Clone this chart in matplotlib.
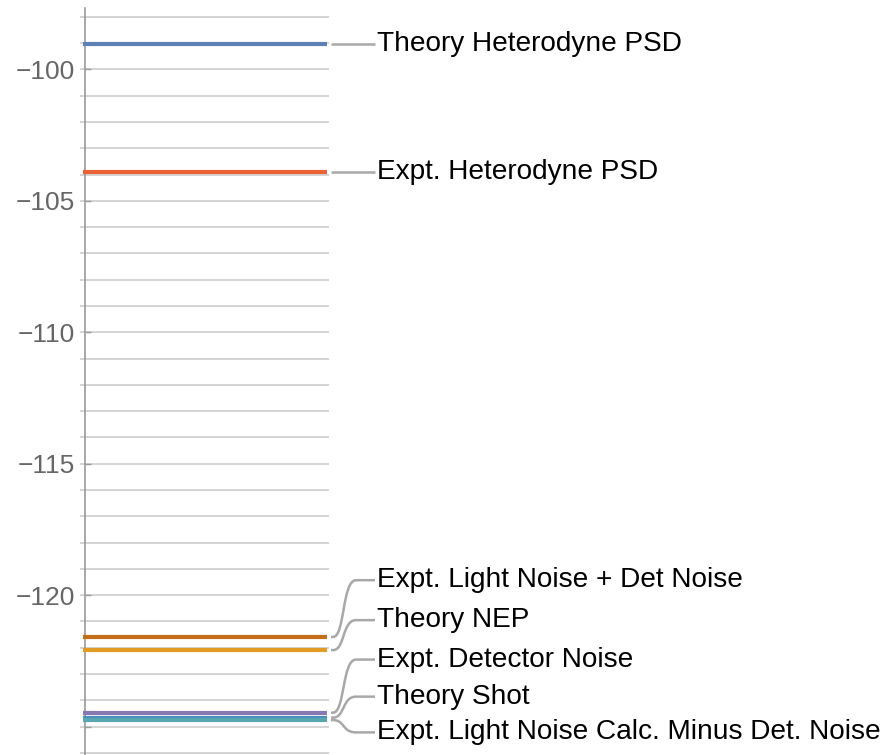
import matplotlib
matplotlib.use("Agg")
import matplotlib.pyplot as plt
from matplotlib.path import Path
from matplotlib.patches import PathPatch

plt.rcParams['font.family'] = ['Liberation Sans', 'DejaVu Sans']

# ---- data ----
series_names = [
    "Theory Heterodyne PSD",
    "Expt. Heterodyne PSD",
    "Expt. Light Noise + Det Noise",
    "Theory NEP",
    "Expt. Detector Noise",
    "Theory Shot",
    "Expt. Light Noise Calc. Minus Det. Noise",
]
series_values = [-99.05, -103.89, -121.59, -122.09, -124.47, -124.66, -124.75]
series_colors = ["#5E81B5", "#EB6235", "#C56E1A", "#E19C24", "#8778B3", "#4C8DC0", "#5AA6AE"]
tick_values = [-100, -105, -110, -115, -120]

# ---- layout (label positions, in y-axis units) ----
label_y = [-99.05, -103.89, -119.43, -120.95, -122.45, -123.86, -125.22]

W, H = 889, 755
fig = plt.figure(figsize=(W / 100, H / 100), dpi=100)
ax_left, ax_right = 80, 329
ax = fig.add_axes([ax_left / W, 0, (ax_right - ax_left) / W, 1])

x0_px, x1_px = 83, 327
ppu = x1_px - x0_px
ax.set_xlim((ax_left - x0_px) / ppu, 1 + (ax_right - x1_px) / ppu)
ax.set_ylim(-126.08, -97.36)

# grid lines every unit
for g in range(-126, -97):
    ax.axhline(g, color="#d4d4d4", lw=1.4, zorder=1)

# series lines
for v, c in zip(series_values, series_colors):
    ax.plot([0, 1], [v, v], color=c, lw=3.0, solid_capstyle="butt", zorder=3)

# axis
for s in ["top", "right", "bottom"]:
    ax.spines[s].set_visible(False)
ax.spines["left"].set_position(("data", 2 / ppu))
ax.spines["left"].set_color("#9a9a9a")
ax.spines["left"].set_linewidth(1.2)
ax.spines["left"].set_bounds(-126.08, -97.68)
ax.set_xticks([])
ax.set_yticks(tick_values + [-125])
ax.set_yticklabels([f"\u2212{abs(t)}" for t in tick_values] + [""])
ax.tick_params(axis="y", direction="in", length=4, width=1.0, color="#9a9a9a",
               labelsize=19, labelcolor="#666666", pad=7)
ax.patch.set_alpha(0)

# labels with connectors
def px_to_x(px):
    return (px - x0_px) / ppu

for name, v, ly in zip(series_names, series_values, label_y):
    xs = px_to_x(331)
    xe = px_to_x(375)
    if abs(ly - v) < 0.05:
        verts = [(xs, v), (xe, ly)]
        codes = [Path.MOVETO, Path.LINETO]
    else:
        xa = px_to_x(333)
        xb = px_to_x(356)
        verts = [(xs, v), (xa, v),
                 (px_to_x(345), v), (px_to_x(342), ly), (xb, ly),
                 (xe, ly)]
        codes = [Path.MOVETO, Path.LINETO,
                 Path.CURVE4, Path.CURVE4, Path.CURVE4,
                 Path.LINETO]
    patch = PathPatch(Path(verts, codes), facecolor="none", edgecolor="#a8a8a8",
                      lw=1.8, clip_on=False, zorder=2)
    ax.add_patch(patch)
    ax.text(px_to_x(377), ly, name, fontsize=20.2, color="black",
            va="center", ha="left", clip_on=False)

fig.savefig("out.png", dpi=100)
